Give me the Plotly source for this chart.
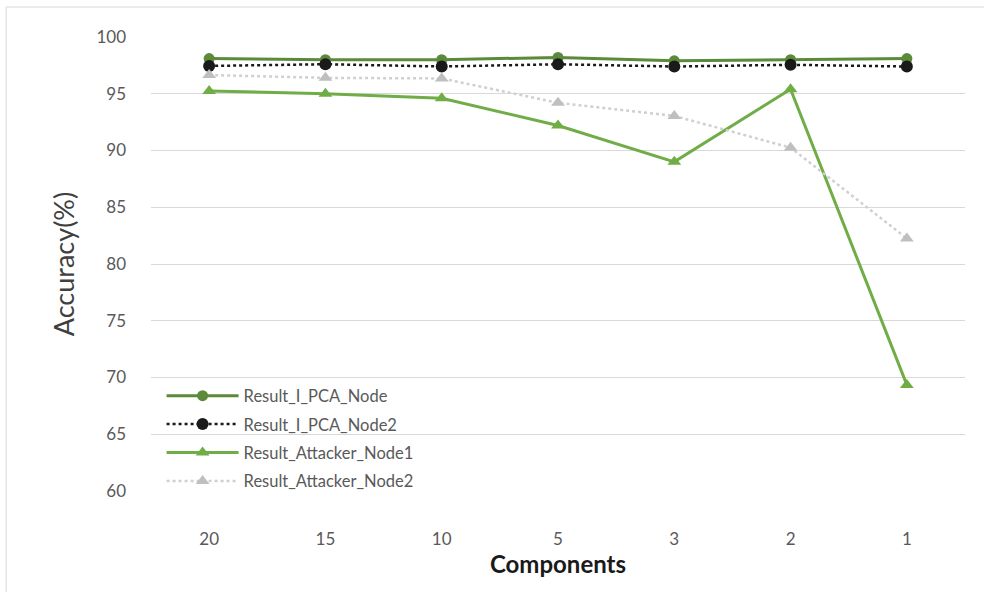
import plotly.graph_objects as go

components = ["20", "15", "10", "5", "3", "2", "1"]
pca_node = [98.1, 98.0, 98.0, 98.2, 97.9, 98.0, 98.1]
pca_node2 = [97.45, 97.6, 97.4, 97.6, 97.4, 97.55, 97.4]
attacker_node1 = [95.25, 95.0, 94.6, 92.2, 89.0, 95.4, 69.35]
attacker_node2 = [96.65, 96.4, 96.35, 94.2, 93.05, 90.25, 82.25]

series_names = ["Result_I_PCA_Node", "Result_I_PCA_Node2",
                "Result_Attacker_Node1", "Result_Attacker_Node2"]
y_ticks = [60, 65, 70, 75, 80, 85, 90, 95, 100]

FONT = "Lato, 'Open Sans', sans-serif"

fig = go.Figure()
styles = [
    dict(line=dict(color="#5B8A3A", width=3), marker=dict(symbol="circle", size=11, color="#5B8A3A")),
    dict(line=dict(color="#1a1a1a", width=2.5, dash="dot"), marker=dict(symbol="circle", size=12, color="#1a1a1a")),
    dict(line=dict(color="#70AD47", width=3), marker=dict(symbol="triangle-up", size=12, color="#70AD47")),
    dict(line=dict(color="#D0D0D0", width=2.5, dash="dot"), marker=dict(symbol="triangle-up", size=12, color="#BFBFBF")),
]
for i, (name, vals) in enumerate(zip(series_names, [pca_node, pca_node2, attacker_node1, attacker_node2])):
    fig.add_trace(go.Scatter(x=components, y=vals, name=name, mode="lines+markers",
                             legendgroup=f"g{i}", **styles[i]))

fig.update_layout(
    width=984, height=592,
    margin=dict(l=151, r=19, t=37, b=101),
    paper_bgcolor="white", plot_bgcolor="white",
    font=dict(family=FONT, color="#595959"),
    showlegend=True,
    legend=dict(x=0.013, y=0.248, xanchor="left", yanchor="top",
                bgcolor="rgba(0,0,0,0)", font=dict(size=16.5, color="#595959", family=FONT),
                itemwidth=72, tracegroupgap=4),
    xaxis=dict(type="category", categoryorder="array", categoryarray=components,
               range=[-0.5, 6.5],
               showgrid=False, showline=False, zeroline=False,
               tickfont=dict(size=17, color="#595959"), ticklabelstandoff=36,
               title=dict(text="<b>Components</b>", font=dict(size=24, color="#1a1a1a"), standoff=5)),
    yaxis=dict(range=[60, 100], tickvals=y_ticks, showgrid=True, gridcolor="#D9D9D9", gridwidth=1,
               zeroline=False, showline=False,
               tickfont=dict(size=17, color="#595959"), ticklabelstandoff=24,
               title=dict(text="Accuracy(%)", font=dict(size=27, color="#404040"), standoff=13)),
    shapes=[dict(type="rect", xref="paper", yref="paper", x0=-0.178, x1=1.2, y0=-0.6, y1=1.066,
                 line=dict(color="#D9D9D9", width=1), fillcolor="rgba(0,0,0,0)", layer="below")],
)

fig.write_html("out.html")
